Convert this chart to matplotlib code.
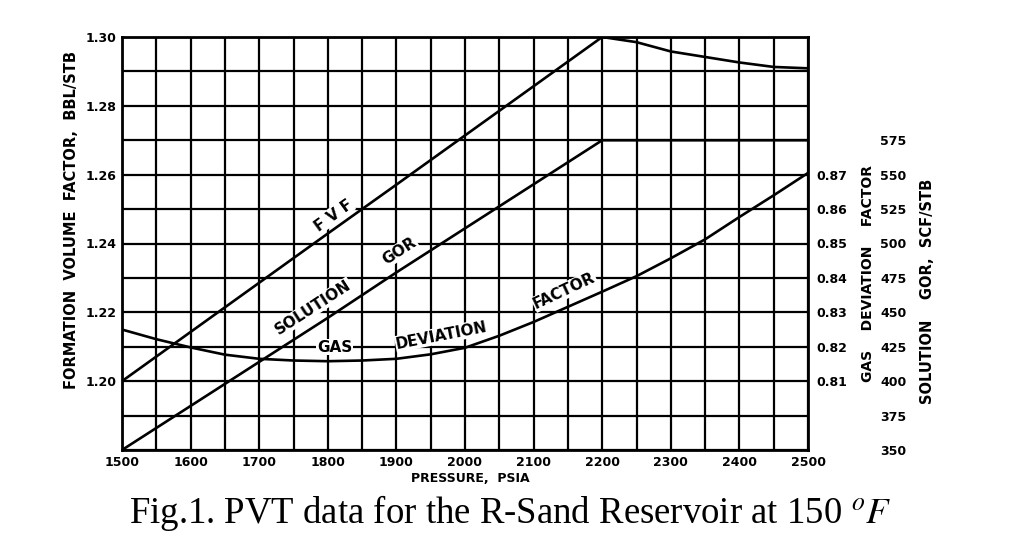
"""PVT data for the R-Sand reservoir: FVF, solution GOR and gas deviation factor"""
import matplotlib.pyplot as plt
import numpy as np

plt.rcParams['mathtext.fontset'] = 'stix'

# pressure grid, psia
pressure = [1500, 1600, 1700, 1800, 1900, 2000, 2100, 2200, 2250, 2300, 2350, 2400, 2450, 2500]

# formation volume factor, bbl/stb
fvf = [1.200, 1.2143, 1.2286, 1.2429, 1.2571, 1.2714, 1.2857, 1.300,
       1.2985, 1.2958, 1.2942, 1.2926, 1.2913, 1.2909]

# solution GOR, scf/stb
gor = [350, 382, 414, 446, 479, 511, 543, 575, 575, 575, 575, 575, 575, 575]

# gas deviation factor
z_pressure = list(range(1500, 2501, 50))
z_factor = [0.8250, 0.8222, 0.8198, 0.8177, 0.8165, 0.8160, 0.8158, 0.8160, 0.8165,
            0.8178, 0.8197, 0.8232, 0.8272, 0.8316, 0.8360, 0.8405, 0.8457, 0.8512,
            0.8577, 0.8640, 0.8705]

fvf_ticks = [1.20, 1.22, 1.24, 1.26, 1.28, 1.30]
z_ticks = [0.81, 0.82, 0.83, 0.84, 0.85, 0.86, 0.87]
gor_ticks = [350, 375, 400, 425, 450, 475, 500, 525, 550, 575]
p_ticks = list(range(1500, 2501, 100))

W, H = 1024, 546
fig = plt.figure(figsize=(W / 100, H / 100), dpi=100)
ax = fig.add_axes([122 / W, 1 - 450 / H, (808 - 122) / W, (450 - 37) / H])

tick_font = dict(fontsize=9, fontweight='bold', family='DejaVu Sans')

ax.set_xlim(1500, 2500)
ax.set_ylim(1.18, 1.30)
ax.set_xticks(p_ticks)
ax.set_xticks(np.arange(1500, 2501, 50), minor=True)
ax.set_yticks(fvf_ticks)
ax.set_yticks(np.arange(1.18, 1.3001, 0.01), minor=True)
ax.set_xticklabels([str(p) for p in p_ticks], **tick_font)
ax.set_yticklabels(['%.2f' % v for v in fvf_ticks], **tick_font)
ax.tick_params(which='both', length=0, pad=4)
ax.grid(which='both', color='black', linewidth=1.6)
for s in ax.spines.values():
    s.set_linewidth(2)

# FVF curve
ax.plot(pressure, fvf, color='black', linewidth=1.9, zorder=3)

# gas deviation factor on its own scale
ax_z = ax.twinx()
ax_z.set_ylim(0.79, 0.91)
ax_z.set_yticks(z_ticks)
ax_z.set_yticklabels(['%.2f' % v for v in z_ticks], **tick_font)
ax_z.tick_params(length=0, pad=6)
ax_z.plot(z_pressure, z_factor, color='black', linewidth=1.9, zorder=3)

# solution GOR on its own scale
ax_g = ax.twinx()
ax_g.set_ylim(350, 650)
ax_g.set_yticks(gor_ticks)
ax_g.set_yticklabels([str(v) for v in gor_ticks], **tick_font)
ax_g.tick_params(length=0, pad=52)
ax_g.plot(pressure, gor, color='black', linewidth=1.9, zorder=3)

for a in (ax_z, ax_g):
    for s in a.spines.values():
        s.set_visible(False)

# labels along the curves
lab = dict(fontsize=11, fontweight='bold', ha='center', va='center', zorder=5,
           bbox=dict(facecolor='white', edgecolor='none', pad=0.5))
ax.text(1808, 1.2482, 'F V F', rotation=36, **lab)
ax.text(1779, 1.2214, 'SOLUTION', rotation=33, **lab)
ax.text(1905, 1.2378, 'GOR', rotation=33, **lab)
ax.text(1810, 1.2099, 'GAS', rotation=0, **lab)
ax.text(1966, 1.2133, 'DEVIATION', rotation=11, **lab)
ax.text(2145, 1.2262, 'FACTOR', rotation=25, **lab)

# axis titles
fig.text(470 / W, 1 - 478 / H, 'PRESSURE,  PSIA', ha='center', va='center',
         fontsize=9, fontweight='bold')
fig.text(72 / W, 1 - 220 / H, 'FORMATION  VOLUME  FACTOR,  BBL/STB', rotation=90,
         ha='center', va='center', fontsize=10.5, fontweight='bold')
fig.text(868 / W, 1 - 273 / H, 'GAS    DEVIATION    FACTOR', rotation=90,
         ha='center', va='center', fontsize=10, fontweight='bold')
fig.text(928 / W, 1 - 291 / H, 'SOLUTION    GOR,  SCF/STB', rotation=90,
         ha='center', va='center', fontsize=10.5, fontweight='bold')

# caption
fig.text(510 / W, 1 - 513 / H, r'Fig.1. PVT data for the R-Sand Reservoir at 150 $^{o}F$',
         ha='center', va='center', fontsize=26.5, family='Liberation Serif')

fig.savefig('out.png', dpi=100)
